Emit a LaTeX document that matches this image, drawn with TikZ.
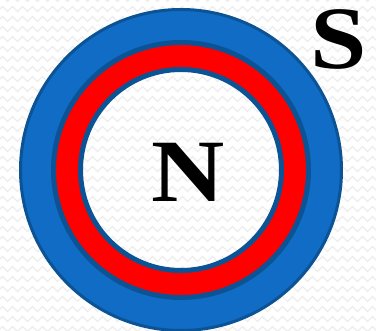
\documentclass[tikz,border=0pt]{standalone}
\usepackage{fontspec}
\setmainfont{Liberation Serif}
\usepackage{xcolor}
\definecolor{mgblue}{HTML}{106CC4}
\definecolor{mgedge}{HTML}{0B5394}
\definecolor{mgred}{HTML}{FF0000}
\definecolor{mgwave}{HTML}{EDEDED}
\usetikzlibrary{decorations.pathmorphing}

\begin{document}
\begin{tikzpicture}[x=1pt, y=1pt,
  wave/.style={draw=mgwave, line width=1.4pt,
               decorate, decoration={zigzag, segment length=10pt, amplitude=2.5pt}},
  ringedge/.style={draw=mgedge},
  pole/.style={inner sep=0pt, anchor=base,
               font=\fontsize{89}{89}\selectfont\bfseries}
]
  \useasboundingbox (0,0) rectangle (376,331);
  \fill[white] (0,0) rectangle (376,331);

  % background waves
  \begin{scope}
    \clip (0,0) rectangle (376,331);
    \foreach \y in {2,12,...,332}
      \draw[wave] (-10,\y) -- (390,\y);
  \end{scope}

  % rings
  \coordinate (c) at (181,161);
  \fill[mgblue, even odd rule] (c) circle (160) (c) circle (127.5);
  \fill[mgred, even odd rule] (c) circle (127.5) (c) circle (100.5);
  \draw[ringedge, line width=3pt] (c) circle (160.5);
  \draw[ringedge, line width=5pt] (c) circle (127.5);
  \draw[ringedge, line width=5pt] (c) circle (100.5);

  % poles
  \node[pole] (north) at (188.5,129) {\scalebox{1.14}[1]{N}};
  \node[pole] (south) at (339,262) {\scalebox{1.14}[1]{S}};
\end{tikzpicture}
\end{document}
